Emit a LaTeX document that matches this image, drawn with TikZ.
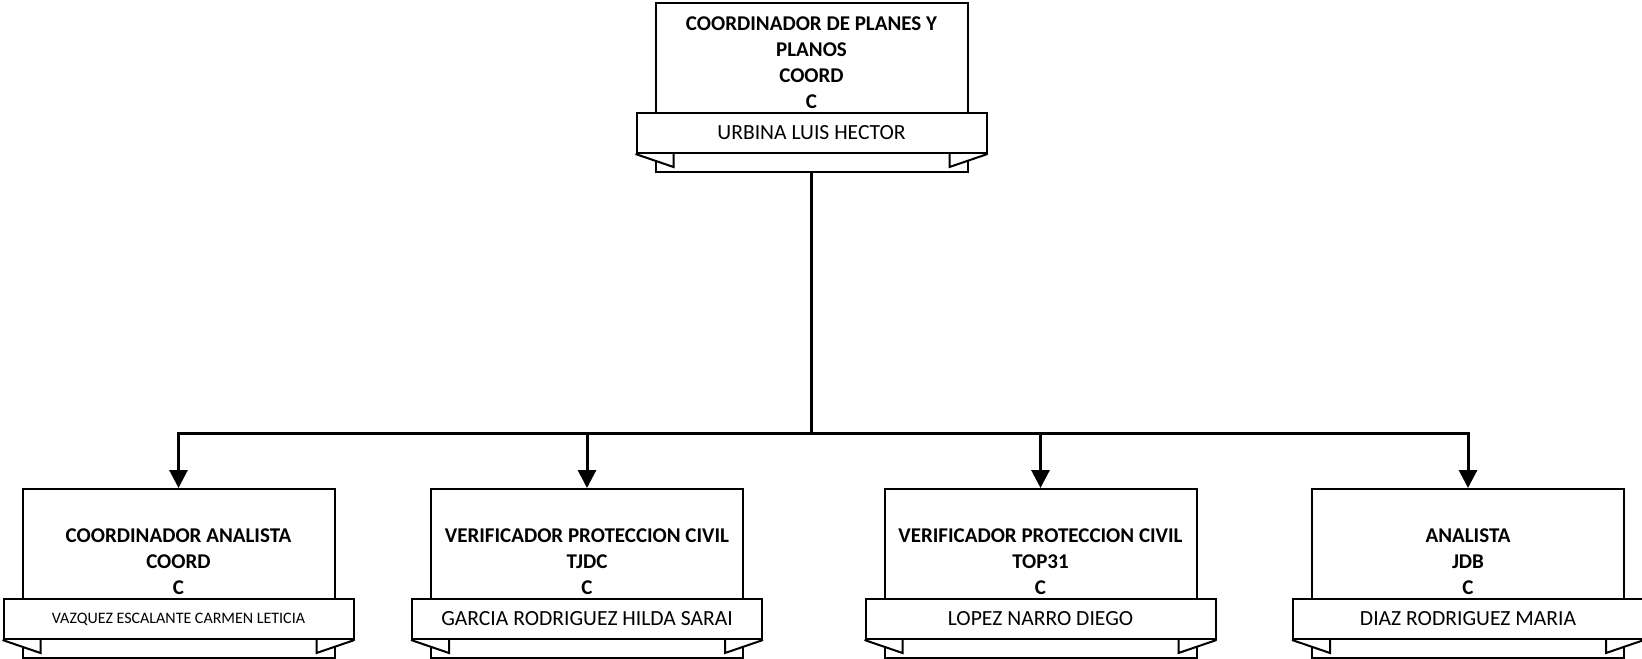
\documentclass[tikz,border=0pt]{standalone}
\usepackage{fontspec}
\setmainfont{Carlito}
\usetikzlibrary{arrows.meta,calc}
\tikzset{
  puesto/.style={draw,line width=1pt,minimum width=156pt,minimum height=84.5pt,
    anchor=north,inner sep=0pt},
  titulo/.style={align=center,font=\bfseries\fontsize{10.5}{13}\selectfont,
    inner sep=0pt,anchor=south},
  cinta/.style={draw,fill=white,line width=1pt,minimum width=175pt,
    minimum height=20pt,inner sep=0pt,font=\fontsize{10.8}{13}\selectfont},
  cola/.style={draw,fill=white,line width=1pt},
  enlace/.style={line width=1.5pt},
  flecha/.style={enlace,-{Triangle[length=9pt,width=9pt]}}
}
% the two folded ends under a name ribbon
\newcommand{\colas}[1]{%
  \draw[cola] (#1.south west) -- ++(38,13) -- ++(0,-13);
  \draw[cola] (#1.south east) -- ++(-38,13) -- ++(0,-13);}
\begin{document}
\begin{tikzpicture}[x=0.5pt,y=-0.5pt]
  \useasboundingbox (0,0) rectangle (1642,658);
  % top
  \node[puesto] (coord) at (811.5,2) {};
  \node[titulo] (coordtit) at ($(coord.north)+(0,107)$)
    {COORDINADOR DE PLANES Y\\PLANOS\\COORD\\C};
  \node[cinta] (coordcin) at ($(coord.north)+(0,131)$) {URBINA LUIS HECTOR};
  \colas{coordcin}
  % second row
  \node[puesto] (coordan) at (178.5,488) {};
  \node[titulo] (coordantit) at ($(coordan.north)+(0,107)$)
    {COORDINADOR ANALISTA\\COORD\\C};
  \node[cinta,font=\fontsize{8}{10}\selectfont] (coordancin)
    at ($(coordan.north)+(0,131)$) {VAZQUEZ ESCALANTE CARMEN LETICIA};
  \colas{coordancin}

  \node[puesto] (veriftj) at (587,488) {};
  \node[titulo] (veriftjtit) at ($(veriftj.north)+(0,107)$)
    {VERIFICADOR PROTECCION CIVIL\\TJDC\\C};
  \node[cinta] (veriftjcin) at ($(veriftj.north)+(0,131)$)
    {GARCIA RODRIGUEZ HILDA SARAI};
  \colas{veriftjcin}

  \node[puesto] (veriftop) at (1040.5,488) {};
  \node[titulo] (veriftoptit) at ($(veriftop.north)+(0,107)$)
    {VERIFICADOR PROTECCION CIVIL\\TOP31\\C};
  \node[cinta] (veriftopcin) at ($(veriftop.north)+(0,131)$)
    {LOPEZ NARRO DIEGO};
  \colas{veriftopcin}

  \node[puesto] (analista) at (1468,488) {};
  \node[titulo] (analistatit) at ($(analista.north)+(0,107)$)
    {ANALISTA\\JDB\\C};
  \node[cinta] (analistacin) at ($(analista.north)+(0,131)$)
    {DIAZ RODRIGUEZ MARIA};
  \colas{analistacin}
  % links
  \draw[enlace] (coord.south) -- ++(0,260) coordinate (bus);
  \draw[flecha] (bus) -| (coordan.north);
  \draw[flecha] (bus) -| (veriftj.north);
  \draw[flecha] (bus) -| (veriftop.north);
  \draw[flecha] (bus) -| (analista.north);
\end{tikzpicture}
\end{document}
